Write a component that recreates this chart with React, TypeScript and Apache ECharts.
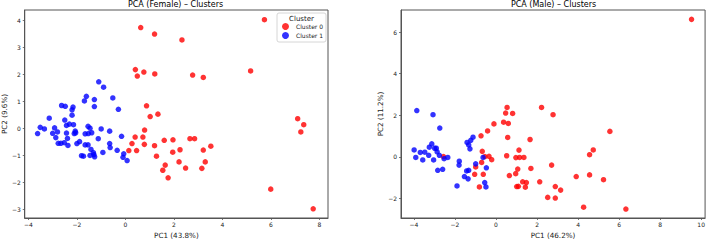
import React, { useEffect, useRef } from 'react';
import * as echarts from 'echarts';

const femaleCluster0: number[][] = [
  [5.73, 4.03], [0.63, 3.74], [1.2, 3.5], [2.33, 3.28], [0.41, 2.18], [0.49, 1.94], [0.76, 2.09],
  [1.21, 2.02], [2.77, 1.98], [3.21, 1.89], [5.16, 2.13], [0.87, 0.84], [1.02, 0.44], [1.34, 0.53],
  [7.1, 0.36], [7.35, 0.14], [7.23, -0.13], [0.79, -0.06], [0.4, -0.32], [0.72, -0.32], [0.27, -0.56],
  [0.78, -0.59], [0.14, -0.82], [0.46, -0.82], [1.2, -0.64], [1.6, -0.44], [1.96, -0.42], [2.66, -0.38],
  [2.85, -0.38], [1.28, -1.03], [1.95, -0.88], [2.25, -0.79], [3.21, -0.8], [3.52, -0.66], [2.21, -1.24],
  [3.29, -1.24], [1.64, -1.36], [1.54, -1.55], [2.48, -1.47], [3.15, -1.48], [1.76, -1.83], [5.99, -2.25],
  [7.74, -2.98],
];

const femaleCluster1: number[][] = [
  [-1.1, 1.73], [-0.9, 1.53], [-1.61, 1.19], [-1.69, 1.02], [-1.28, 1.07], [-0.52, 1.13], [-2.63, 0.85],
  [-2.48, 0.82], [-1.28, 0.81], [-2.16, 0.79], [-2.2, 0.69], [-0.29, 0.71], [-2.2, 0.49], [-3.14, 0.38],
  [-2.5, 0.31], [-3.51, 0.04], [-3.34, -0.02], [-3.62, -0.19], [-2.92, 0.02], [-3.0, -0.18], [-2.8, -0.13],
  [-2.87, -0.34], [-2.77, -0.55], [-2.66, -0.55], [-2.52, -0.53], [-2.43, 0.11], [-2.31, 0.16], [-2.14, 0.14],
  [-2.43, -0.17], [-2.39, -0.37], [-2.37, -0.63], [-2.07, -0.1], [-2.05, -0.16], [-2.11, -0.19], [-2.0, -0.56],
  [-1.89, -0.49], [-1.81, -1.01], [-1.73, -1.03], [-1.66, -0.2], [-1.54, 0.08], [-1.46, 0.01], [-1.53, -0.19],
  [-1.39, -0.16], [-1.66, -0.61], [-1.54, -0.61], [-1.42, -0.78], [-1.32, -0.9], [-1.46, -1.0], [-1.27, -1.05],
  [-1.3, -0.97], [-1.12, -0.38], [-1.0, -0.02], [-0.93, -0.89], [-0.65, -0.1], [-0.65, -0.56], [-0.63, -0.71],
  [-0.34, -0.81], [-0.16, -0.29], [-0.07, -0.94], [-0.1, -1.07], [0.07, -1.19],
];

const maleCluster0: number[][] = [
  [9.53, 6.61], [0.54, 2.38], [0.47, 2.11], [0.81, 2.09], [2.22, 2.38], [2.78, 2.03], [-2.56, 0.02],
  [-0.73, 1.02], [-0.41, 1.25], [-0.1, 1.59], [0.37, 1.67], [0.6, 1.61], [0.57, 0.94], [1.66, 0.84],
  [5.55, 1.23], [-0.67, 0.27], [-0.54, 0.02], [-0.34, 0.03], [-0.21, -0.13], [-0.7, -0.26], [-0.99, -0.48],
  [-1.04, -0.83], [-0.81, -1.44], [-0.62, -0.83], [0.52, 0.06], [0.97, -0.03], [1.12, 0.33], [1.15, -0.02],
  [1.36, -0.02], [1.06, -0.58], [1.7, -0.55], [0.96, -0.8], [0.65, -0.89], [1.01, -1.42], [1.09, -1.41],
  [1.3, -1.19], [1.48, -1.23], [1.43, -1.45], [2.13, -1.19], [2.71, -0.39], [2.89, -1.42], [3.15, -1.59],
  [2.52, -1.94], [2.89, -1.97], [3.91, -0.94], [4.56, 0.11], [4.74, 0.34], [4.56, -0.86], [5.24, -1.09],
  [4.27, -2.41], [6.33, -2.5],
];

const maleCluster1: number[][] = [
  [-3.86, 2.23], [-3.07, 2.03], [-2.74, 1.39], [-3.99, 0.34], [-3.91, -0.02], [-3.69, 0.22], [-3.57, -0.14],
  [-3.47, 0.23], [-3.28, 0.08], [-3.25, 0.47], [-3.13, 0.63], [-3.04, -0.14], [-2.99, 0.42], [-2.91, 0.42],
  [-2.87, 0.25], [-2.76, 0.08], [-2.84, -0.64], [-2.6, -0.59], [-2.53, -0.08], [-2.35, -0.02], [-1.9, -1.39],
  [-1.79, -0.2], [-1.8, -0.39], [-1.54, -0.94], [-1.36, -1.05], [-1.43, -0.67], [-1.33, -0.64], [-1.41, 0.7],
  [-1.33, 0.58], [-1.27, 0.39], [-1.23, 0.8], [-1.12, 0.95], [-0.99, -0.33], [-0.63, -0.02], [-0.47, -0.52],
  [-0.55, -1.23], [-0.49, -1.44],
];

const femaleXTicks = [-4, -2, 0, 2, 4, 6, 8];
const femaleYTicks = [-3, -2, -1, 0, 1, 2, 3, 4];
const maleXTicks = [-4, -2, 0, 2, 4, 6, 8, 10];
const maleYTicks = [-2, 0, 2, 4, 6];

const titles = ['PCA (Female) – Clusters', 'PCA (Male) – Clusters'];
const xNames = ['PC1 (43.8%)', 'PC1 (46.2%)'];
const yNames = ['PC2 (9.6%)', 'PC2 (11.2%)'];
const clusterNames = ['Cluster 0', 'Cluster 1'];
const legendTitle = 'Cluster';
const clusterColors = ['#ff0000', '#0000ff'];

const FONT = 'DejaVu Sans';
const AXIS_COLOR = '#555';
const TEXT_COLOR = '#222';

const fmt = (v: number) => String(v).replace('-', '\u2212');

function makeAxis(
  gridIndex: number,
  min: number,
  max: number,
  ticks: number[],
  name: string,
  nameGap: number,
  isY: boolean
) {
  return {
    type: 'value',
    gridIndex,
    min,
    max,
    name,
    nameLocation: 'middle',
    nameGap,
    nameTextStyle: { fontFamily: FONT, fontSize: 7.2, color: TEXT_COLOR },
    axisLine: { show: true, onZero: false, lineStyle: { color: AXIS_COLOR, width: 1 } },
    axisTick: {
      show: true,
      length: 2,
      inside: false,
      customValues: ticks,
      lineStyle: { color: AXIS_COLOR, width: 0.8 },
    },
    axisLabel: {
      show: true,
      customValues: ticks,
      formatter: fmt,
      fontFamily: FONT,
      fontSize: 6,
      color: TEXT_COLOR,
      margin: isY ? 4 : 3,
      showMinLabel: true,
      showMaxLabel: true,
    },
    splitLine: { show: false },
  };
}

export default function App() {
  const ref = useRef<HTMLDivElement>(null);

  useEffect(() => {
    if (!ref.current) return;
    const chart = echarts.init(ref.current, undefined, { renderer: 'svg' });

    const series: any[] = [];
    const groups = [
      [femaleCluster0, femaleCluster1],
      [maleCluster0, maleCluster1],
    ];
    groups.forEach((g, gi) => {
      g.forEach((data, ci) => {
        series.push({
          type: 'scatter',
          name: clusterNames[ci],
          xAxisIndex: gi,
          yAxisIndex: gi,
          data,
          symbol: 'circle',
          symbolSize: 5.5,
          itemStyle: { color: clusterColors[ci], opacity: 0.8 },
          emphasis: { disabled: true },
        });
      });
    });

    chart.setOption({
      animation: false,
      backgroundColor: '#ffffff',
      textStyle: { fontFamily: FONT },
      title: [
        {
          text: titles[0],
          left: 175.5,
          top: 0,
          textAlign: 'center',
          padding: 0,
          textStyle: { fontFamily: FONT, fontSize: 8, fontWeight: 'normal', color: '#000' },
        },
        {
          text: titles[1],
          left: 553.5,
          top: 0,
          textAlign: 'center',
          padding: 0,
          textStyle: { fontFamily: FONT, fontSize: 8, fontWeight: 'normal', color: '#000' },
        },
      ],
      grid: [
        { left: 23, top: 10, width: 305, height: 214, show: true, borderColor: AXIS_COLOR, borderWidth: 1, backgroundColor: 'transparent' },
        { left: 401, top: 10, width: 305, height: 214, show: true, borderColor: AXIS_COLOR, borderWidth: 1, backgroundColor: 'transparent' },
      ],
      xAxis: [
        makeAxis(0, -4.15, 8.35, femaleXTicks, xNames[0], 14, false),
        makeAxis(1, -4.63, 10.19, maleXTicks, xNames[1], 14, false),
      ],
      yAxis: [
        makeAxis(0, -3.32, 4.39, femaleYTicks, yNames[0], 15, true),
        makeAxis(1, -2.93, 7.06, maleYTicks, yNames[1], 15, true),
      ],
      legend: {
        show: true,
        orient: 'vertical',
        left: 282,
        top: 23,
        padding: 0,
        itemWidth: 7,
        itemHeight: 7,
        itemGap: 2,
        icon: 'circle',
        data: clusterNames,
        textStyle: { fontFamily: FONT, fontSize: 6, color: TEXT_COLOR, padding: [0, 0, 0, 2] },
        selectedMode: false,
        z: 10,
      },
      graphic: [
        {
          type: 'rect',
          z: 5,
          shape: { x: 277, y: 13, width: 49, height: 29, r: 2 },
          style: { fill: 'rgba(255,255,255,0.8)', stroke: '#cccccc', lineWidth: 0.8 },
        },
        {
          type: 'text',
          z: 6,
          x: 301.5,
          y: 19,
          style: {
            text: legendTitle,
            fontFamily: FONT,
            fontSize: 7,
            fill: TEXT_COLOR,
            align: 'center',
            verticalAlign: 'middle',
          },
        },
      ],
      series,
    });

    return () => {
      chart.dispose();
    };
  }, []);

  return (
    <div
      ref={ref}
      style={{ position: 'fixed', left: 0, top: 0, width: 708, height: 244, background: '#fff' }}
    />
  );
}
